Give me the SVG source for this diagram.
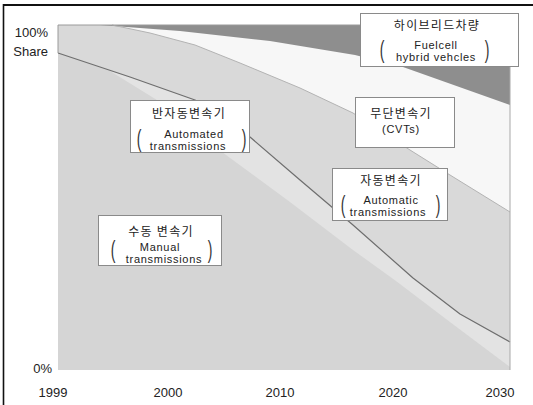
<svg xmlns="http://www.w3.org/2000/svg" width="533" height="405" viewBox="0 0 533 405">
<style>
.ax{font-family:"Liberation Sans",Arial,sans-serif;font-size:13px;fill:#222}
.ko{font-family:"Noto Sans CJK KR","Noto Sans",sans-serif;font-size:12px;letter-spacing:1.3px;fill:#222;text-anchor:middle}
.en{font-family:"Liberation Sans",Arial,sans-serif;font-size:11px;letter-spacing:0.7px;fill:#222;text-anchor:middle}
.br{font-family:"Liberation Sans",Arial,sans-serif;font-size:14px;fill:#333;text-anchor:middle}
.box{fill:#fff;stroke:#8a8a8a;stroke-width:1}
</style>
<rect width="533" height="405" fill="#fff"/>
<g id="frame" stroke="#111" fill="none">
<line x1="3" y1="5" x2="533" y2="5" stroke-width="2"/>
<line x1="3.5" y1="4" x2="3.5" y2="405" stroke-width="1.6"/>
</g>
<g id="chart">
<rect x="58" y="25" width="452" height="345" fill="#d5d5d5"/>
<polygon fill="#e3e3e3" points="58,53 110,71 165,105 222,152 290,202 353,250 396,281 450,322 510,367 510,25 58,25"/>
<polygon fill="#d9d9d9" points="58,53 130,77 195,100 250,137 300,180 353,225 413,278 460,314 510,342 510,25 58,25"/>
<polygon fill="#f7f7f7" points="112,25 150,33 195,45 240,63 300,88 353,113 410,150 450,175 510,212 510,25"/>
<polygon fill="#8e8e8e" points="100,25 180,31 270,41 355,55 403,67 510,105 510,25"/>
</g>
<g id="series-lines" fill="none" stroke-linejoin="round">
<polyline stroke="#b3b3b3" stroke-width="1" points="112,25 150,33 195,45 240,63 300,88 353,113 410,150 450,175 510,212"/>
<polyline stroke="#6e6e6e" stroke-width="1.2" points="58,53 130,77 195,100 250,137 300,180 353,225 413,278 460,314 510,342"/>
<polyline stroke="#9a9a9a" stroke-width="1" points="58,53 58,25 510,25"/>
<line x1="510" y1="25" x2="510" y2="370" stroke="#a8a8a8" stroke-width="1"/>
</g>
<g id="axis-labels" class="ax">
<text x="48" y="37" text-anchor="end">100%</text>
<text x="48" y="56" text-anchor="end">Share</text>
<text x="52" y="373" text-anchor="end">0%</text>
<text x="53" y="397" text-anchor="middle">1999</text>
<text x="168" y="397" text-anchor="middle">2000</text>
<text x="280" y="397" text-anchor="middle">2010</text>
<text x="393" y="397" text-anchor="middle">2020</text>
<text x="500" y="397" text-anchor="middle">2030</text>
</g>
<g id="hybrid">
<rect class="box" x="360.5" y="13.5" width="158" height="53"/>
<text class="ko" x="437" y="30">하이브리드차량</text>
<text class="en" x="436" y="48.5">Fuelcell</text>
<text class="en" x="436" y="61">hybrid vehcles</text>
<text class="br" transform="translate(382,58) scale(1,1.7)">(</text>
<text class="br" transform="translate(487,58) scale(1,1.7)">)</text>
</g>
<g id="cvt">
<rect class="box" x="355.5" y="97.5" width="99" height="50"/>
<text class="ko" x="401" y="118">무단변속기</text>
<text class="en" x="401" y="133">(CVTs)</text>
</g>
<g id="automatic">
<rect class="box" x="332.5" y="168.5" width="115" height="52"/>
<text class="ko" x="391" y="185">자동변속기</text>
<text class="en" x="391" y="203.5">Automatic</text>
<text class="en" x="388" y="216">transmissions</text>
<text class="br" transform="translate(343,213) scale(1,1.7)">(</text>
<text class="br" transform="translate(438,213) scale(1,1.7)">)</text>
</g>
<g id="automated">
<rect class="box" x="130.5" y="100.5" width="119" height="52"/>
<text class="ko" x="189" y="118">반자동변속기</text>
<text class="en" x="194" y="137.5">Automated</text>
<text class="en" x="188" y="150">transmissions</text>
<text class="br" transform="translate(139,147) scale(1,1.7)">(</text>
<text class="br" transform="translate(244,147) scale(1,1.7)">)</text>
</g>
<g id="manual">
<rect class="box" x="98.5" y="215.5" width="123" height="50"/>
<text class="ko" x="161" y="236">수동 변속기</text>
<text class="en" x="160" y="250.5">Manual</text>
<text class="en" x="164" y="263">transmissions</text>
<text class="br" transform="translate(113,258) scale(1,1.7)">(</text>
<text class="br" transform="translate(210,258) scale(1,1.7)">)</text>
</g>
</svg>
